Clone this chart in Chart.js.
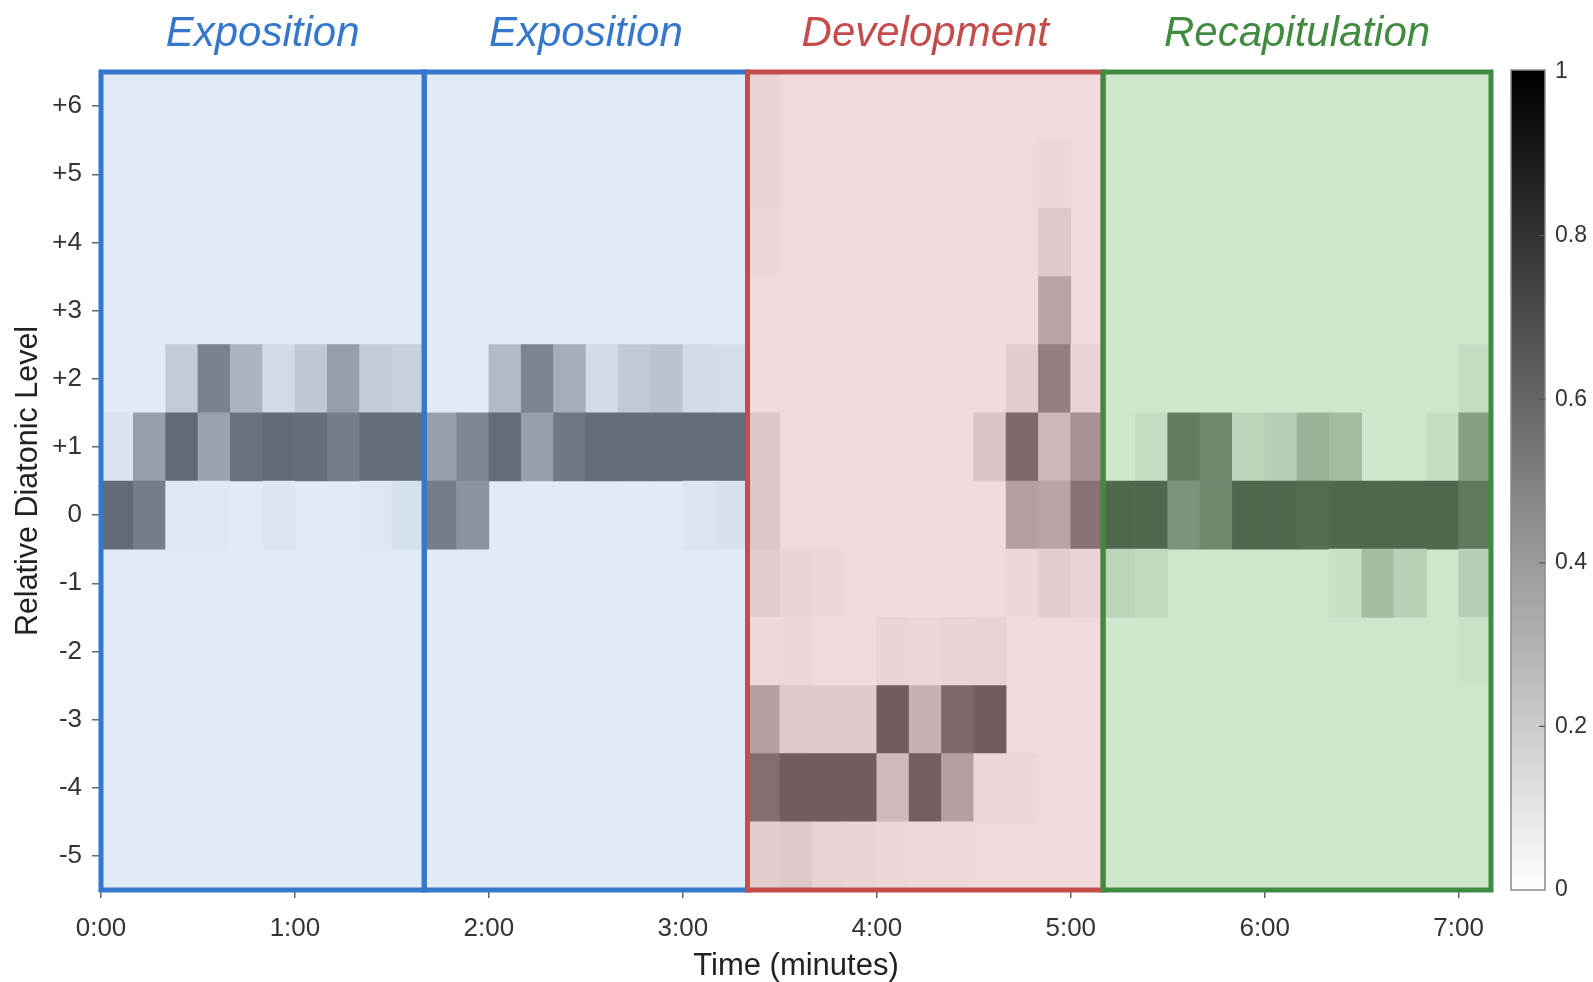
<!DOCTYPE html>
<html>
<head>
<meta charset="utf-8">
<title>Relative diatonic level over time</title>
<script src="https://cdn.jsdelivr.net/npm/chart.js@4.4.1/dist/chart.umd.min.js"></script>
<style>
  html, body { margin: 0; padding: 0; background: #ffffff; }
  #wrap { position: relative; width: 1593px; height: 982px; }
</style>
</head>
<body>
<div id="wrap"><canvas id="chart"></canvas></div>
<script>
// ---- time grid: one column per 10-second window ----
const columnSeconds = 10;
const columnCount = 43;
const columnStarts = Array.from({ length: columnCount }, (_, i) => i * columnSeconds);

// ---- vertical levels and tick labels ----
const levels      = [-5, -4, -3, -2, -1, 0, 1, 2, 3, 4, 5, 6];
const levelLabels = ['-5', '-4', '-3', '-2', '-1', '0', '+1', '+2', '+3', '+4', '+5', '+6'];
const minuteTicks  = [0, 1, 2, 3, 4, 5, 6, 7];
const minuteLabels = ['0:00', '1:00', '2:00', '3:00', '4:00', '5:00', '6:00', '7:00'];
const colorbarTicks  = [0, 0.2, 0.4, 0.6, 0.8, 1];
const colorbarLabels = ['0', '0.2', '0.4', '0.6', '0.8', '1'];

// ---- form sections (column ranges, end exclusive) ----
const sectionNames  = ['Exposition', 'Exposition', 'Development', 'Recapitulation'];
const sectionStart  = [0, 10, 20, 31];
const sectionEnd    = [10, 20, 31, 43];
const sectionLine   = ['#3477cc', '#3477cc', '#c44d4b', '#418b41'];
const sectionTint   = [[50, 119, 204], [50, 119, 204], [180, 70, 80], [46, 146, 38]];
const sectionAlpha  = [0.15, 0.15, 0.20, 0.23];

// ---- weight of each level in every window (0..1) ----
// columns 0-9 exposition, 10-19 exposition, 20-30 development, 31-42 recapitulation
const levelP6 = [0,0,0,0,0,0,0,0,0,0,
                 0,0,0,0,0,0,0,0,0,0,
                 0.03,0,0,0,0,0,0,0,0,0,0,
                 0,0,0,0,0,0,0,0,0,0,0,0];
const levelP5 = [0,0,0,0,0,0,0,0,0,0,
                 0,0,0,0,0,0,0,0,0,0,
                 0.03,0,0,0,0,0,0,0,0,0.02,0,
                 0,0,0,0,0,0,0,0,0,0,0,0];
const levelP4 = [0,0,0,0,0,0,0,0,0,0,
                 0,0,0,0,0,0,0,0,0,0,
                 0.02,0,0,0,0,0,0,0,0,0.09,0,
                 0,0,0,0,0,0,0,0,0,0,0,0];
const levelP3 = [0,0,0,0,0,0,0,0,0,0,
                 0,0,0,0,0,0,0,0,0,0,
                 0,0,0,0,0,0,0,0,0,0.27,0,
                 0,0,0,0,0,0,0,0,0,0,0,0];
const levelP2 = [0,0,0.14,0.48,0.25,0.07,0.16,0.35,0.14,0.12,
                 0,0,0.22,0.47,0.28,0.07,0.15,0.18,0.07,0.06,
                 0,0,0,0,0,0,0,0,0.07,0.45,0.03,
                 0,0,0,0,0,0,0,0,0,0,0,0.05];
const levelP1 = [0.03,0.35,0.59,0.33,0.55,0.59,0.57,0.50,0.58,0.58,
                 0.34,0.46,0.58,0.35,0.53,0.58,0.57,0.57,0.58,0.58,
                 0.10,0,0,0,0,0,0,0.11,0.56,0.17,0.36,
                 0,0.05,0.54,0.48,0.08,0.12,0.26,0.22,0,0,0.05,0.36];
const level0  = [0.59,0.50,0.01,0.01,0,0.02,0,0,0.01,0.05,
                 0.50,0.40,0,0,0,0,0,0,0.02,0.04,
                 0.10,0,0,0,0,0,0,0,0.29,0.27,0.51,
                 0.64,0.64,0.42,0.48,0.64,0.64,0.62,0.64,0.64,0.64,0.64,0.56];
const levelM1 = [0,0,0,0,0,0,0,0,0,0,
                 0,0,0,0,0,0,0,0,0,0,
                 0.07,0.03,0.02,0,0,0,0,0,0.02,0.07,0.03,
                 0.09,0.06,0,0,0,0,0,0.03,0.21,0.11,0,0.12];
const levelM2 = [0,0,0,0,0,0,0,0,0,0,
                 0,0,0,0,0,0,0,0,0,0,
                 0.01,0.02,0,0,0.03,0.02,0.03,0.04,0,0,0,
                 0,0,0,0,0,0,0,0,0,0,0,0.02];
const levelM3 = [0,0,0,0,0,0,0,0,0,0,
                 0,0,0,0,0,0,0,0,0,0,
                 0.29,0.09,0.08,0.08,0.62,0.20,0.56,0.62,0,0,0,
                 0,0,0,0,0,0,0,0,0,0,0,0];
const levelM4 = [0,0,0,0,0,0,0,0,0,0,
                 0,0,0,0,0,0,0,0,0,0,
                 0.53,0.62,0.62,0.62,0.16,0.61,0.29,0.02,0.02,0,0,
                 0,0,0,0,0,0,0,0,0,0,0,0];
const levelM5 = [0,0,0,0,0,0,0,0,0,0,
                 0,0,0,0,0,0,0,0,0,0,
                 0.07,0.09,0.04,0.03,0.02,0.01,0.01,0,0,0,0,
                 0,0,0,0,0,0,0,0,0,0,0,0];

const weights = [levelM5, levelM4, levelM3, levelM2, levelM1, level0,
                 levelP1, levelP2, levelP3, levelP4, levelP5, levelP6];

// ---- colour: gray colormap (0 white .. 1 black) under a tinted section wash ----
function sectionOf(col) {
  for (let s = 0; s < sectionStart.length; s++) {
    if (col >= sectionStart[s] && col < sectionEnd[s]) return s;
  }
  return sectionStart.length - 1;
}
function cellColor(col, w) {
  const s = sectionOf(col);
  const gray = 255 * (1 - w);
  const a = sectionAlpha[s];
  const rgb = sectionTint[s].map(t => Math.round(a * t + (1 - a) * gray));
  return `rgb(${rgb[0]},${rgb[1]},${rgb[2]})`;
}
const minutesAt = col => col * columnSeconds / 60;

const FONT = '"Liberation Sans", Arial, Helvetica, sans-serif';
Chart.defaults.font.family = FONT;

const datasets = levels.map((lv, r) => ({
  label: levelLabels[r],
  data: weights[r].map(w => (w > 0 ? [lv - 0.5, lv + 0.5] : null)),
  backgroundColor: weights[r].map((w, c) => cellColor(c, w)),
  xAxisID: 'xc',
  yAxisID: 'y',
  grouped: false,
  barPercentage: 1,
  categoryPercentage: 1,
  borderWidth: 0,
  borderSkipped: false
}));

// section washes, frames and headings
const sectionPlugin = {
  id: 'sections',
  beforeDraw(chart) {
    const ctx = chart.ctx;
    ctx.save();
    ctx.fillStyle = '#ffffff';
    ctx.fillRect(0, 0, chart.width, chart.height);
    ctx.restore();
  },
  beforeDatasetsDraw(chart) {
    const { ctx, chartArea, scales: { x } } = chart;
    ctx.save();
    sectionNames.forEach((name, i) => {
      const x0 = x.getPixelForValue(minutesAt(sectionStart[i]));
      const x1 = x.getPixelForValue(minutesAt(sectionEnd[i]));
      ctx.fillStyle = cellColor(sectionStart[i], 0);
      ctx.fillRect(x0, chartArea.top, x1 - x0, chartArea.bottom - chartArea.top);
    });
    ctx.restore();
  },
  afterDatasetsDraw(chart) {
    const { ctx, chartArea, scales: { x } } = chart;
    ctx.save();
    ctx.lineWidth = 5;
    ctx.lineJoin = 'miter';
    sectionNames.forEach((name, i) => {
      const x0 = x.getPixelForValue(minutesAt(sectionStart[i]));
      const x1 = x.getPixelForValue(minutesAt(sectionEnd[i]));
      ctx.strokeStyle = sectionLine[i];
      ctx.strokeRect(x0, chartArea.top, x1 - x0, chartArea.bottom - chartArea.top);
    });
    ctx.font = `italic 42px ${FONT}`;
    ctx.textAlign = 'center';
    ctx.textBaseline = 'alphabetic';
    sectionNames.forEach((name, i) => {
      const x0 = x.getPixelForValue(minutesAt(sectionStart[i]));
      const x1 = x.getPixelForValue(minutesAt(sectionEnd[i]));
      ctx.fillStyle = sectionLine[i];
      ctx.fillText(name, (x0 + x1) / 2, chartArea.top - 26);
    });
    ctx.restore();
  }
};

// gray colour bar drawn inside the right-hand 'cb' scale
const colorbarPlugin = {
  id: 'colorbar',
  afterDraw(chart) {
    const cb = chart.scales.cb;
    const ctx = chart.ctx;
    const left = cb.left + 20, width = 34;
    const top = cb.getPixelForValue(1) - 2;
    const bottom = cb.getPixelForValue(0);
    ctx.save();
    const grad = ctx.createLinearGradient(0, bottom, 0, top);
    colorbarTicks.forEach(v => {
      const g = Math.round(255 * (1 - v));
      grad.addColorStop(v, `rgb(${g},${g},${g})`);
    });
    ctx.fillStyle = grad;
    ctx.fillRect(left, top, width, bottom - top);
    ctx.strokeStyle = '#8a8a8a';
    ctx.lineWidth = 1.5;
    ctx.strokeRect(left, top, width, bottom - top);
    ctx.strokeStyle = '#555555';
    ctx.lineWidth = 1.2;
    colorbarTicks.slice(1, -1).forEach(v => {
      const y = cb.getPixelForValue(v);
      ctx.beginPath();
      ctx.moveTo(left + width - 6, y);
      ctx.lineTo(left + width, y);
      ctx.stroke();
    });
    ctx.restore();
  }
};

new Chart(document.getElementById('chart'), {
  type: 'bar',
  data: { labels: columnStarts, datasets },
  options: {
    responsive: true,
    maintainAspectRatio: false,
    animation: false,
    events: [],
    layout: { padding: { top: 72, left: 0, right: 0, bottom: 0 } },
    plugins: { legend: { display: false }, tooltip: { enabled: false } },
    scales: {
      xc: { type: 'category', display: false, offset: true },
      x: {
        type: 'linear',
        position: 'bottom',
        offset: false,
        min: 0,
        max: minutesAt(columnCount),
        afterBuildTicks: s => { s.ticks = minuteTicks.map(v => ({ value: v })); },
        afterFit: s => { s.height = 92; },
        ticks: {
          autoSkip: false, maxRotation: 0, padding: 15,
          color: '#333333', font: { size: 26 },
          callback: v => minuteLabels[minuteTicks.indexOf(v)]
        },
        grid: { offset: false, drawOnChartArea: false, drawTicks: true, tickLength: 8, color: '#666666', lineWidth: 1.5 },
        border: { display: false },
        title: { display: true, text: 'Time (minutes)', color: '#222222', font: { size: 31 }, padding: { top: 0, bottom: -3 } }
      },
      y: {
        type: 'linear',
        position: 'left',
        min: -5.5,
        max: 6.5,
        afterBuildTicks: s => { s.ticks = levels.map(v => ({ value: v })); },
        afterFit: s => { s.width = 101; },
        ticks: {
          padding: 10, color: '#333333', font: { size: 26 },
          callback: v => levelLabels[levels.indexOf(v)]
        },
        grid: { drawOnChartArea: false, drawTicks: true, tickLength: 9, color: '#666666', lineWidth: 1.5 },
        border: { display: false },
        title: { display: true, text: 'Relative Diatonic Level', color: '#222222', font: { size: 30.5 }, padding: { top: 10, bottom: 0 } }
      },
      cb: {
        type: 'linear',
        position: 'right',
        min: 0,
        max: 1,
        afterBuildTicks: s => { s.ticks = colorbarTicks.map(v => ({ value: v })); },
        afterFit: s => { s.width = 102; },
        ticks: {
          padding: 4, color: '#333333', font: { size: 23 },
          callback: v => colorbarLabels[colorbarTicks.indexOf(v)]
        },
        grid: { display: true, drawOnChartArea: false, drawTicks: true, tickLength: 60, color: 'rgba(0,0,0,0)' },
        border: { display: false }
      }
    }
  },
  plugins: [sectionPlugin, colorbarPlugin]
});
</script>
</body>
</html>
